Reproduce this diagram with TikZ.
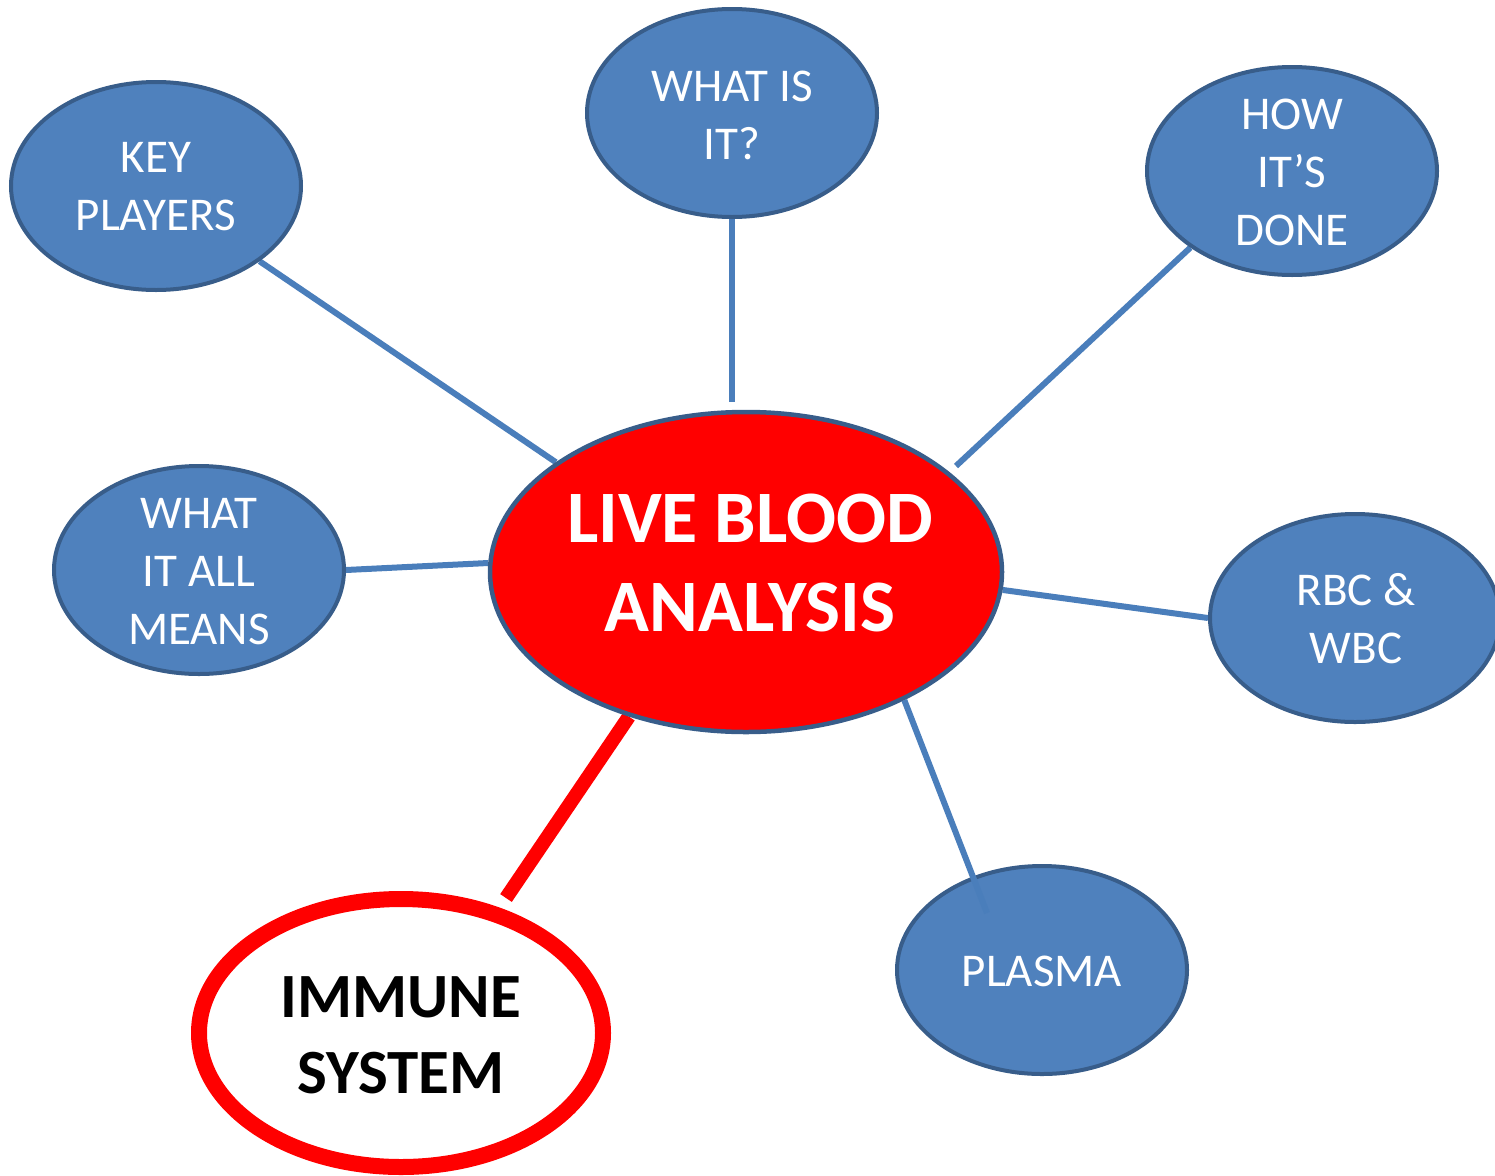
\documentclass[tikz,border=0pt]{standalone}
\usepackage{fontspec}
\setmainfont{Carlito}
\usetikzlibrary{shapes.geometric}
\pgfdeclarelayer{paper}
\pgfdeclarelayer{links}
\pgfsetlayers{paper,links,main}
\definecolor{bubfill}{HTML}{4F81BD}
\definecolor{bubline}{HTML}{385D8A}
\definecolor{linkblue}{HTML}{4A7EBB}
\definecolor{hotred}{HTML}{FF0000}
\tikzset{
  bub/.style={ellipse, inner sep=0pt, fill=bubfill, draw=bubline, line width=4pt,
    minimum width=290pt, minimum height=208pt},
  btxt/.style={text=white, align=center, font=\fontsize{47}{58}\selectfont, inner sep=0pt},
  hub/.style={ellipse, inner sep=0pt, fill=hotred, draw=bubline, line width=4.5pt,
    minimum width=512pt, minimum height=320pt},
  htxt/.style={text=white, align=center, font=\fontsize{74}{89}\selectfont\bfseries, inner sep=0pt},
  focus/.style={ellipse, inner sep=0pt, fill=white, draw=hotred, line width=16pt,
    minimum width=404pt, minimum height=268pt},
  ftxt/.style={text=black, align=center, font=\fontsize{63}{76}\selectfont\bfseries, inner sep=0pt},
  link/.style={draw=linkblue, line width=6pt},
  hotlink/.style={draw=hotred, line width=14pt}
}
\begin{document}
\begin{tikzpicture}[x=1pt,y=-1pt]
\begin{pgfonlayer}{paper}
\fill[white] (0,0) rectangle (1495,1175);
\end{pgfonlayer}
\useasboundingbox (0,0) rectangle (1495,1175);

% central topic
\node[hub] (main) at (746,572) {};
\node[htxt] (mainT) at (750,563) {LIVE BLOOD\\ANALYSIS};

% surrounding topics
\node[bub] (kp) at (156,186) {};
\node[btxt] (kpT) at (156,187) {KEY\\PLAYERS};
\node[bub] (wii) at (732,113) {};
\node[btxt] (wiiT) at (732,115) {WHAT IS\\IT?};
\node[bub] (how) at (1292,171) {};
\node[btxt] (howT) at (1292,172) {HOW\\IT’S\\DONE};
\node[bub] (wiam) at (199,570) {};
\node[btxt] (wiamT) at (199,572) {WHAT\\IT ALL\\MEANS};
\node[bub] (rbc) at (1355,618) {};
\node[btxt] (rbcT) at (1356,619) {RBC \&\\WBC};
\node[bub] (plasma) at (1042,970) {};
\node[btxt] (plasmaT) at (1042,971) {PLASMA};
\node[focus] (imm) at (401,1033) {};
\node[ftxt] (immT) at (401,1035) {IMMUNE\\SYSTEM};

% free ends of the connectors
\coordinate (wiiEnd) at (732,402);
\coordinate (howEnd) at (956,466);
\coordinate (plasmaEnd) at (987,913);
\coordinate (immEnd) at (506,898);

% connectors behind the bubbles
\begin{pgfonlayer}{links}
\draw[link] (kp.-36.2) -- (main.150.4);
\draw[link] (wii.-90) -- (wiiEnd);
\draw[link] (how.-143.5) -- (howEnd);
\draw[link] (wiam.0) -- (main.178);
\draw[link] (main.-4.5) -- (rbc.180);
\draw[hotlink] (main.-129.7) -- (immEnd);
\end{pgfonlayer}
% this one runs over its bubble
\draw[link] (main.-39.5) -- (plasmaEnd);
\end{tikzpicture}
\end{document}
